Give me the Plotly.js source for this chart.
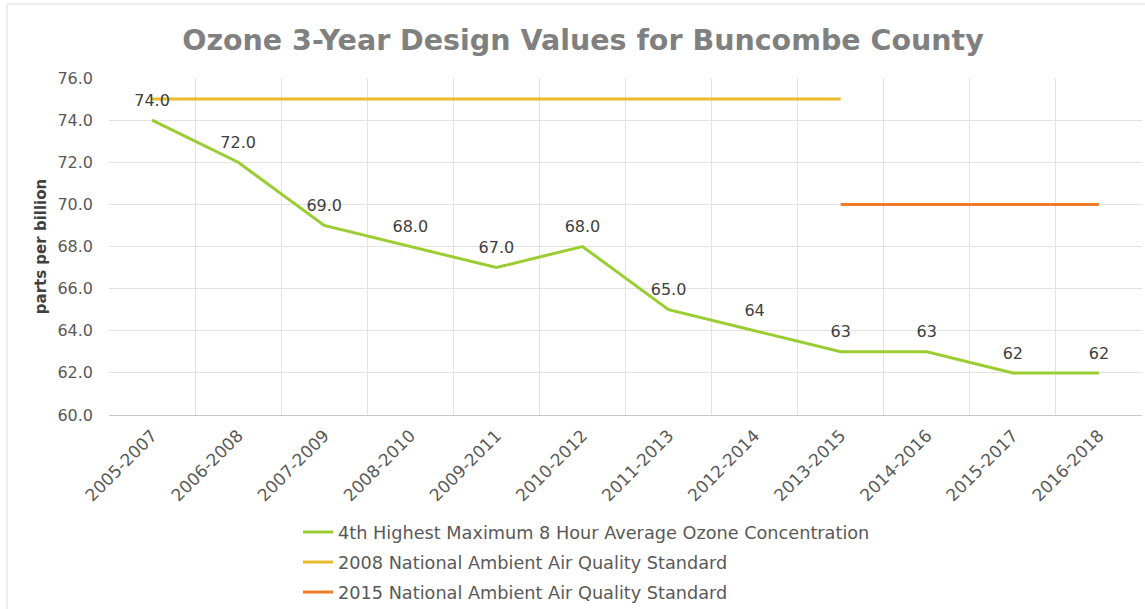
<!DOCTYPE html>
<html>
<head>
<meta charset="utf-8">
<script src="https://cdn.plot.ly/plotly-3.0.1.min.js"></script>
<style>
html,body{margin:0;padding:0;background:#fff;}
#chart{width:1145px;height:609px;}
</style>
</head>
<body>
<div id="chart"></div>
<script>
const periods = ["2005-2007","2006-2008","2007-2009","2008-2010","2009-2011","2010-2012","2011-2013","2012-2014","2013-2015","2014-2016","2015-2017","2016-2018"];
const ozoneValues = [74,72,69,68,67,68,65,64,63,63,62,62];
const ozoneLabels = ["74.0","72.0","69.0","68.0","67.0","68.0","65.0","64","63","63","62","62"];
const naaqs2008 = [75,75,75,75,75,75,75,75,75,null,null,null];
const naaqs2015 = [null,null,null,null,null,null,null,null,70,70,70,70];
const seriesNames = ["4th Highest Maximum 8 Hour Average Ozone Concentration","2008 National Ambient Air Quality Standard","2015 National Ambient Air Quality Standard"];
const yTicks = [60,62,64,66,68,70,72,74,76];

const FONT = "'DejaVu Sans', sans-serif";
const data = [
  {x: periods, y: ozoneValues, name: seriesNames[0], mode: "lines",
   line: {color: "#9ACD32", width: 3}, legendgroup: "a"},
  {x: periods, y: naaqs2008, name: seriesNames[1], mode: "lines",
   line: {color: "#E9BA2C", width: 3}, legendgroup: "b"},
  {x: periods, y: naaqs2015, name: seriesNames[2], mode: "lines",
   line: {color: "#EF7B2B", width: 3}, legendgroup: "c"},
  {x: periods, y: ozoneValues, text: ozoneLabels, name: "labels", mode: "markers+text",
   textposition: "top center", textfont: {family: FONT, size: 16, color: "#404040"},
   marker: {size: 15, opacity: 0, color: "#9ACD32"}, showlegend: false, cliponaxis: false}
];

const L = 109, R = 3, T = 78, B = 194;
const W = 1145 - L - R, H = 609 - T - B;
const px = v => (v - L) / W;
const py = v => (609 - B - v) / H;

const layout = {
  width: 1145, height: 609,
  margin: {l: L, r: R, t: T, b: B, pad: 0, autoexpand: false},
  paper_bgcolor: "#fff", plot_bgcolor: "#fff",
  font: {family: FONT, color: "#595959", size: 16},
  title: {text: "<b>Ozone 3-Year Design Values for Buncombe County</b>",
          font: {family: FONT, size: 28.5, color: "#808080"},
          x: 583/1145, xref: "container", xanchor: "center", y: 1 - 40/609, yanchor: "middle"},
  xaxis: {type: "category", range: [-0.5, 11.5], tickson: "boundaries", ticks: "",
          showgrid: true, gridcolor: "#e3e3e3", gridwidth: 1,
          showline: true, linecolor: "#c8c8c8", linewidth: 1, automargin: false,
          tickangle: -45, tickfont: {family: FONT, size: 17, color: "#595959"},
          ticklabelstandoff: 3, zeroline: false, fixedrange: true},
  yaxis: {range: [60, 76], tickvals: yTicks, tickformat: ".1f", ticks: "",
          showgrid: true, gridcolor: "#e3e3e3", gridwidth: 1, zeroline: false,
          showline: false, tickfont: {family: FONT, size: 16, color: "#595959"},
          ticklabelstandoff: 15, automargin: false,
          title: {text: "<b>parts per billion</b>", font: {family: FONT, size: 15, color: "#404040"}, standoff: 7},
          fixedrange: true},
  showlegend: true,
  legend: {orientation: "v", x: px(298), xanchor: "left", y: py(514), yanchor: "top",
           font: {family: FONT, size: 17.7, color: "#595959"}, tracegroupgap: 4,
           bgcolor: "rgba(0,0,0,0)", traceorder: "grouped"},
  shapes: [
    {type: "rect", xref: "paper", yref: "paper", x0: px(7), x1: px(1160), y0: py(620), y1: py(4),
     line: {color: "#d9d9d9", width: 1}, fillcolor: "rgba(0,0,0,0)", layer: "below"}
  ]
};

Plotly.newPlot("chart", data, layout, {displayModeBar: false, staticPlot: true});
</script>
</body>
</html>
